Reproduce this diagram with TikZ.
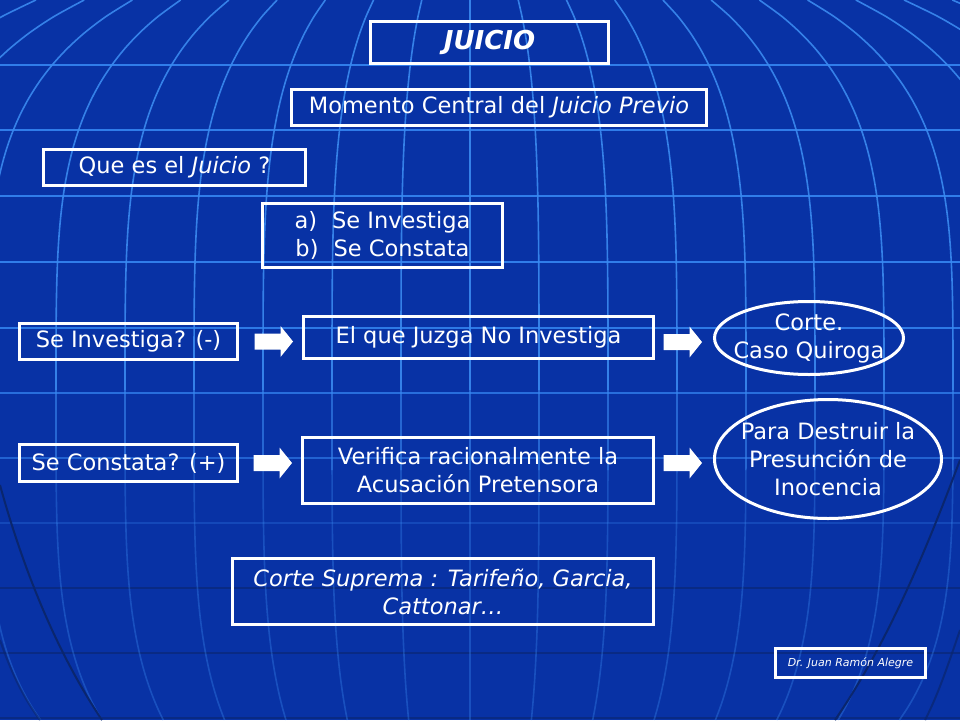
\documentclass[tikz,border=0pt]{standalone}
\usepackage{fontspec}
\setmainfont{DejaVu Sans}
\usetikzlibrary{shapes.geometric,calc}
\definecolor{bgblue}{RGB}{8,50,165}
\definecolor{gridc}{RGB}{48,125,234}
\definecolor{meridc}{RGB}{58,138,240}
\definecolor{gdark}{RGB}{10,38,110}
\newcommand\mainsz{\fontsize{22.5}{28}\selectfont}
\begin{document}
\begin{tikzpicture}[x=1pt,y=-1pt,
  declare function={fm(\t)=sqrt(1-((\t-400)/473)*((\t-400)/473)*((\t-400)/473)*((\t-400)/473));},
  box/.style={draw=white, line width=3pt, rectangle, inner sep=0pt, text=white, font=\mainsz, align=center},
  oval/.style={draw=white, line width=3pt, ellipse, inner sep=0pt},
  txt/.style={text=white, font=\mainsz, align=center, inner sep=0pt},
  merid/.style={draw=meridc, line width=1.6pt},
  hline/.style={draw=gridc, line width=2.4pt},
  dline/.style={draw=gdark, line width=2pt},
  blockarrow/.style={fill=white}]
\useasboundingbox (0,0) rectangle (960,720);
\fill[bgblue] (0,0) rectangle (960,720);
\begin{scope}
\clip (0,0) rectangle (960,720);
\foreach \y/\op in {65/1,130/1,196/1,262/1,328/0.95,393/0.8,458/0.65,523/0.3}
  \draw[hline, draw opacity=\op] (0,\y) -- (960,\y);
\foreach \y in {588,653,718}
  \draw[dline, draw opacity=0.6] (0,\y) -- (960,\y);
\foreach \i in {-10,...,11}{
  \foreach \a/\b/\op in {0/390/0.9, 390/470/0.6, 470/720/0.35}{
    \draw[merid, draw opacity=\op] plot[domain=\a:\b, samples=25, variable=\t, smooth] ({470+69*\i*fm(\t)}, {\t});
  }
}
\draw[dline] (0,485) .. controls (22,565) and (55,650) .. (102,720);
\draw[dline, draw opacity=0.6] (0,640) .. controls (12,675) and (25,700) .. (40,720);
\draw[dline] (960,460) .. controls (930,540) and (890,640) .. (835,720);
\draw[dline, draw opacity=0.7] (960,630) .. controls (948,665) and (938,695) .. (925,720);
\end{scope}

% boxes
\node[box, minimum width=238, minimum height=42, font=\fontsize{26}{30}\selectfont\bfseries\itshape] (title) at (489.5,42.5) {JUICIO};
\node[box, minimum width=415, minimum height=36] (mom) at (499,107.5) {Momento Central del \textit{Juicio Previo}};
\node[box, minimum width=262, minimum height=36] (que) at (174.5,167.5) {Que es el \textit{Juicio} ?};
\node[box, minimum width=240, minimum height=64] (ab) at (382.5,235.5) {a)\hspace{15pt}Se Investiga\\b)\hspace{15pt}Se Constata};
\node[box, minimum width=218, minimum height=36] (inv) at (128.5,341.5) {Se Investiga? (-)};
\node[box, minimum width=350, minimum height=42] (juz) at (478.5,337.5) {El que Juzga No Investiga};
\node[oval, minimum width=189, minimum height=73] (corte) at (809,338) {};
\node[txt] (cortetxt) at (corte.center) {Corte.\\Caso Quiroga};
\node[box, minimum width=218, minimum height=37] (cons) at (128.5,463) {Se Constata? (+)};
\node[box, minimum width=351, minimum height=66] (ver) at (478,470.5) {Verifica racionalmente la\\Acusación Pretensora};
\node[oval, minimum width=227, minimum height=119] (para) at (828,459) {};
\node[txt] (paratxt) at (para.center) {Para Destruir la\\Presunción de\\Inocencia};
\node[box, minimum width=421, minimum height=66, font=\mainsz\itshape] (sup) at (443,591.5) {Corte Suprema : Tarifeño, Garcia,\\Cattonar…};
\node[box, minimum width=150, minimum height=29, font=\fontsize{11}{13}\selectfont\itshape] (dr) at (850.5,663) {Dr. Juan Ramón Alegre};

% block arrows
\fill[blockarrow] ($(inv.east)+(15.5,-8)$) -- ++(26,0) -- ++(0,-7.5) -- ++(12.5,15.5) -- ++(-12.5,15.5) -- ++(0,-7.5) -- ++(-26,0) -- cycle;
\fill[blockarrow] ($(juz.east)+(8.5,-3.5)$) -- ++(26,0) -- ++(0,-7.5) -- ++(12.5,15.5) -- ++(-12.5,15.5) -- ++(0,-7.5) -- ++(-26,0) -- cycle;
\fill[blockarrow] ($(cons.east)+(14.5,-8)$) -- ++(26,0) -- ++(0,-7.5) -- ++(12.5,15.5) -- ++(-12.5,15.5) -- ++(0,-7.5) -- ++(-26,0) -- cycle;
\fill[blockarrow] ($(ver.east)+(8.5,-15.5)$) -- ++(26,0) -- ++(0,-7.5) -- ++(12.5,15.5) -- ++(-12.5,15.5) -- ++(0,-7.5) -- ++(-26,0) -- cycle;
\end{tikzpicture}
\end{document}
